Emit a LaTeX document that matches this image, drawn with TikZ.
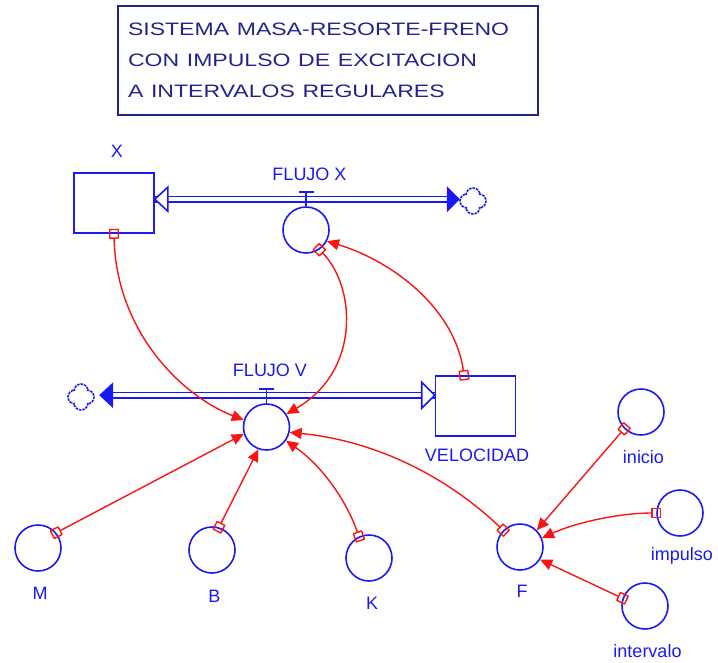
\documentclass[tikz,border=0pt]{standalone}
\usepackage{fontspec}
\setmainfont{Liberation Sans}
\usetikzlibrary{arrows.meta}
\definecolor{sdblue}{RGB}{25,25,245}
\definecolor{sdred}{RGB}{250,20,20}
\definecolor{titleblue}{RGB}{35,35,140}
\newcommand{\wideline}[1]{\scalebox{1.28}[1]{#1}}
\tikzset{
  stock/.style={draw=sdblue, line width=1.6pt, minimum width=80pt, minimum height=60pt, inner sep=0pt},
  aux/.style={circle, draw=sdblue, line width=1.6pt, minimum size=46pt, inner sep=0pt},
  valve/.style={aux},
  cloud/.style={circle, minimum size=28pt, inner sep=0pt},
  lbl/.style={text=sdblue, font=\fontsize{18}{20}\selectfont, inner sep=0pt},
  pipe/.style={draw=sdblue, line width=1.8pt, double=white, double distance=3.5pt},
  openhead/.style={draw=sdblue, fill=white, line width=1.6pt, line join=miter},
  fullhead/.style={fill=sdblue},
  stem/.style={draw=sdblue, line width=1.6pt},
  cloudline/.style={draw=sdblue, line width=1.6pt, dash pattern=on 2.5pt off 1pt},
  link/.style={draw=sdred, line width=1.4pt, shorten <=-5pt,
    {Square[open,round,length=10pt,width=10pt]}-{Triangle[length=12pt,width=11pt]}},
}
\begin{document}
\begin{tikzpicture}[x=1pt, y=-1pt]
\useasboundingbox (0,0) rectangle (718,662);

% title
\node[draw=titleblue, line width=1.4pt, minimum width=420pt, minimum height=109pt,
      text width=400pt, inner sep=10pt, align=left, text=titleblue,
      font=\fontsize{18}{31}\selectfont] (title) at (328,60.5)
  {\wideline{SISTEMA MASA-RESORTE-FRENO}\\ \wideline{CON IMPULSO DE EXCITACION}\\ \wideline{A INTERVALOS REGULARES}};

% stocks, valves, clouds
\node[stock] (X) at (114,203) {};
\node[stock] (V) at (475.5,406) {};
\node[valve] (fx) at (306,230) {};
\node[valve] (fv) at (266.5,427) {};
\node[cloud] (cx) at (473,201) {};
\node[cloud] (cv) at (81,397) {};

% auxiliaries
\node[aux] (M) at (38,548) {};
\node[aux] (B) at (212,550) {};
\node[aux] (K) at (369,558) {};
\node[aux] (F) at (520,547) {};
\node[aux] (ini) at (641,412) {};
\node[aux] (imp) at (680,513) {};
\node[aux] (int) at (645,606) {};

% cloud icons
\foreach \c in {cx,cv}
  \foreach \a in {0,90,180,270}
    \draw[cloudline] (\c.center) ++(\a:6) ++(\a-90:7) arc[start angle=\a-90, end angle=\a+90, radius=7];

% flow X pipe
\coordinate (fxp) at ([yshift=7pt]fx.north);
\coordinate (cxin) at ([xshift=-8pt]cx.west);
\draw[pipe] (X.east |- fxp) -- (cxin |- fxp);
\draw[openhead] (X.east |- fxp) -- ++(13,-12) -- ++(0,24) -- cycle;
\fill[fullhead] (cx.west |- fxp) ++(1,0) -- ++(-13,-13) -- ++(0,26) -- cycle;
\draw[stem] (fx.north) -- ++(0,-14) ++(-7.5,0) -- ++(15,0);

% flow V pipe
\coordinate (fvp) at ([yshift=8pt]fv.north);
\draw[pipe] (cv.east |- fvp) ++(10,0) -- (V.west |- fvp);
\draw[openhead] (V.west |- fvp) -- ++(-13,-13) -- ++(0,26) -- cycle;
\fill[fullhead] (cv.east |- fvp) ++(4,0) -- ++(14,-13) -- ++(0,26) -- cycle;
\draw[stem] (fv.north) -- ++(0,-14) ++(-7.5,0) -- ++(15,0);

% labels
\node[lbl] (lX) at (117,151.5) {X};
\node[lbl] (lfx) at (309.5,174.5) {FLUJO X};
\node[lbl] (lfv) at (270,370.5) {FLUJO V};
\node[lbl] (lV) at (477,455) {VELOCIDAD};
\node[lbl] (lM) at (40,593) {M};
\node[lbl] (lB) at (214.5,596) {B};
\node[lbl] (lK) at (372,603.5) {K};
\node[lbl] (lF) at (522,591) {F};
\node[lbl] (lini) at (643.5,457) {inicio};
\node[lbl] (limp) at (682,556) {impulso};
\node[lbl] (lint) at (647.5,651) {intervalo};

% information links
\draw[link] (X.south) .. controls (116,330) and (180,395) .. (fv.163);
\draw[link] (fx.-56) .. controls (355,285) and (362,370) .. (fv.33);
\draw[link] ([xshift=-11.5pt]V.north) .. controls (455,310) and (395,262) .. (fx.-28);
\draw[link] (M.40) -- (fv.197);
\draw[link] (B.73) -- (fv.-110);
\draw[link] (K.115) .. controls (345,497) and (320,464.6) .. (fv.-35);
\draw[link] (F.135) .. controls (443.4,473.3) and (371.8,440.4) .. (fv.-13);
\draw[link] (ini.-135) -- (F.45);
\draw[link] (imp.180) .. controls (617,513) and (573,523.6) .. (F.22);
\draw[link] (int.161) -- (F.-32);
\end{tikzpicture}
\end{document}
